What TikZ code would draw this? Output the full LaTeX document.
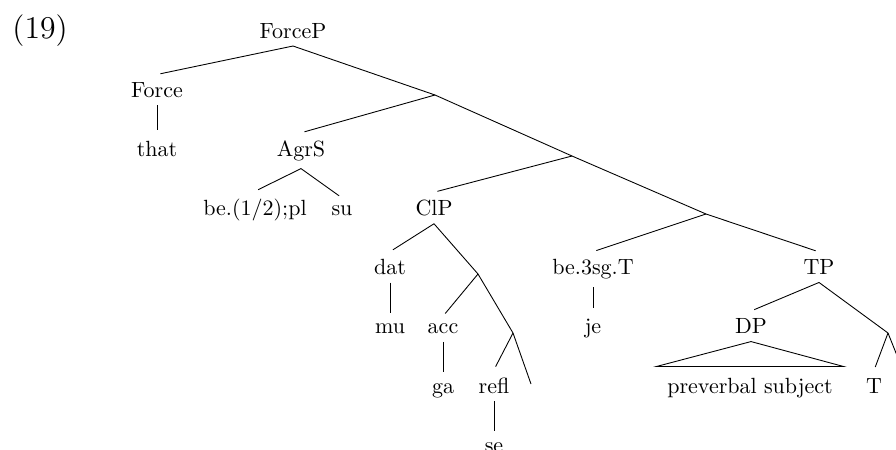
\documentclass[tikz,border=0pt]{standalone}
\usepackage{tikz}
\usetikzlibrary{calc}

\begin{document}
\begin{tikzpicture}[x=0.4545pt, y=-0.4545pt,
    every node/.style={anchor=base, inner sep=3.33pt},
    br/.style={shorten >=1.6pt}]
    \clip (0,0) rectangle (896,450);
    % example number
    \node[font=\Large, anchor=base west, inner sep=0pt] (exnum) at (12,38) {(19)};

    % ForceP and Force
    \node (forcep) at (293,38) {ForceP};
    \node (force) at (157,97.2) {Force};
    \node (that) at (157,156.3) {that};
    \coordinate (x1) at (435,95);
    \draw[br] (forcep.south) -- (force.north);
    \draw (forcep.south) -- (x1);
    \draw[br] (force.south) -- (that.north);

    % AgrS
    \node (agrs) at (301,156.3) {AgrS};
    \node (be12) at (255,215.5) {be.(1/2);pl};
    \node (su) at (342,215.5) {su};
    \coordinate (x2) at (572,156);
    \draw[br] (x1) -- (agrs.north);
    \draw (x1) -- (x2);
    \draw[br] (agrs.south) -- (be12.north);
    \draw[br] (agrs.south) -- (su.north);

    % ClP - clitic cluster
    \node (clp) at (434,215.5) {ClP};
    \coordinate (x3) at (706,214);
    \draw[br] (x2) -- (clp.north);
    \draw (x2) -- (x3);
    \node (dat) at (390,274.7) {dat};
    \node (mu) at (390,333.8) {mu};
    \coordinate (x4) at (478,274);
    \draw[br] (clp.south) -- (dat.north);
    \draw (clp.south) -- (x4);
    \draw[br] (dat.south) -- (mu.north);
    \node (acc) at (443,333.8) {acc};
    \node (ga) at (443,393) {ga};
    \coordinate (x5) at (513,333);
    \draw[br] (x4) -- (acc.north);
    \draw (x4) -- (x5);
    \draw[br] (acc.south) -- (ga.north);
    \node (refl) at (494,393) {refl};
    \node (se) at (494,452.2) {se};
    \coordinate (xe) at (531,384);
    \draw[br] (x5) -- (refl.north);
    \draw (x5) -- (xe);
    \draw[br] (refl.south) -- (se.north);

    % be.3sg.T and TP
    \node (be3) at (593,274.7) {be.3sg.T};
    \node (je) at (593,333.8) {je};
    \node (tp) at (819,274.7) {TP};
    \draw[br] (x3) -- (be3.north);
    \draw[br] (x3) -- (tp.north);
    \draw[br] (be3.south) -- (je.north);
    \node (dp) at (751,333.8) {DP};
    \node (subj) at (750,393) {preverbal subject};
    \coordinate (x6) at (888,333);
    \draw[br] (tp.south) -- (dp.north);
    \draw (tp.south) -- (x6);
    \draw (dp.south) -- ($(subj.north west)+(-3,-3.5)$)
        -- ($(subj.north east)+(3,-3.5)$) -- cycle;
    \node (t) at (874,393) {T};
    \coordinate (x6r) at (902,368);
    \draw[br] (x6) -- (t.north);
    \draw (x6) -- (x6r);
\end{tikzpicture}
\end{document}
